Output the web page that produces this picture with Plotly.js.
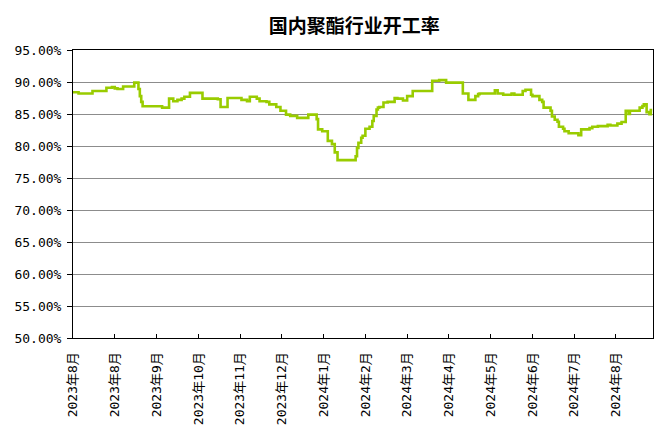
<!DOCTYPE html>
<html>
<head>
<meta charset="utf-8">
<script src="https://cdn.plot.ly/plotly-3.0.1.min.js"></script>
<style>html,body{margin:0;padding:0;background:#fff;}#chart{width:671px;height:441px;}</style>
</head>
<body>
<div id="chart"></div>
<script>
// Step changes of the operating rate (date, %)
const dates = [
  "2023-08-01","2023-08-05","2023-08-15","2023-08-25","2023-08-29","2023-08-31","2023-09-02","2023-09-06",
  "2023-09-14","2023-09-17","2023-09-18","2023-09-19","2023-09-20","2023-10-04","2023-10-09","2023-10-12",
  "2023-10-15","2023-10-18","2023-10-20","2023-10-24","2023-11-02","2023-11-13","2023-11-15","2023-11-20",
  "2023-11-30","2023-12-04","2023-12-06","2023-12-11","2023-12-13","2023-12-18","2023-12-20","2023-12-25",
  "2023-12-28","2024-01-01","2024-01-04","2024-01-09","2024-01-17","2024-01-23","2024-01-24","2024-01-27",
  "2024-01-31","2024-02-03","2024-02-05","2024-02-07","2024-02-20","2024-02-21","2024-02-22","2024-02-24",
  "2024-02-25","2024-02-27","2024-03-01","2024-03-03","2024-03-04","2024-03-06","2024-03-07","2024-03-08",
  "2024-03-11","2024-03-14","2024-03-19","2024-03-21","2024-03-25","2024-03-28","2024-04-01","2024-04-15",
  "2024-04-20","2024-04-25","2024-05-07","2024-05-11","2024-05-16","2024-05-18","2024-05-19","2024-05-30",
  "2024-06-01","2024-06-05","2024-06-11","2024-06-13","2024-06-19","2024-06-21","2024-06-25","2024-06-26",
  "2024-07-01","2024-07-03","2024-07-04","2024-07-09","2024-07-10","2024-07-12","2024-07-14","2024-07-15",
  "2024-07-18","2024-07-19","2024-07-22","2024-07-29","2024-07-31","2024-08-06","2024-08-08","2024-08-12",
  "2024-08-19","2024-08-21","2024-08-26","2024-08-29","2024-09-01","2024-09-03","2024-09-04","2024-09-11",
  "2024-09-13","2024-09-14","2024-09-16","2024-09-18","2024-09-19","2024-09-20"
];
const rates = [
  88.4,88.2,88.6,89.1,89.2,89.0,88.9,89.3,
  89.9,88.9,87.8,86.9,86.2,86.0,87.4,87.0,
  87.2,87.4,87.7,88.3,87.4,87.3,86.1,87.5,
  87.2,87.0,87.7,87.4,87.0,86.9,86.5,86.1,
  85.5,84.9,84.7,84.4,84.9,84.2,82.6,82.3,
  80.8,80.3,79.0,77.8,78.4,79.7,80.5,81.3,
  81.6,82.7,83.0,83.9,84.7,85.7,86.0,86.1,
  86.8,86.9,87.5,87.4,87.1,87.8,88.6,90.2,
  90.3,89.9,88.2,87.2,87.8,88.1,88.2,88.7,
  88.2,88.0,88.2,88.0,88.6,88.8,88.0,87.8,
  87.2,86.9,86.0,85.5,84.6,84.1,83.8,83.0,
  82.7,82.3,82.0,81.7,82.6,82.8,83.0,83.1,
  83.3,83.2,83.5,83.75,85.5,85.0,85.5,86.0,
  86.25,86.5,85.3,84.95,85.6,85.6
];
const tickDates = [
  "2023-08-01","2023-08-31","2023-09-30","2023-10-30","2023-11-29","2023-12-29","2024-01-28",
  "2024-02-27","2024-03-28","2024-04-27","2024-05-27","2024-06-26","2024-07-26","2024-08-25"
];
const tickLabels = [
  "2023年8月","2023年8月","2023年9月","2023年10月","2023年11月","2023年12月","2024年1月",
  "2024年2月","2024年3月","2024年4月","2024年5月","2024年6月","2024年7月","2024年8月"
];
const xRange = ["2023-08-01 00:00","2024-09-20 14:00"];
const yTicks = [50,55,60,65,70,75,80,85,90,95];
const yTickLabels = ["50.00%","55.00%","60.00%","65.00%","70.00%","75.00%","80.00%","85.00%","90.00%","95.00%"];

const font = '"DejaVu Sans Mono", "Noto Sans CJK SC", monospace';

Plotly.newPlot('chart', [{
  x: dates, y: rates, type: 'scatter', mode: 'lines',
  line: {shape: 'hv', color: '#99cc00', width: 2.6},
  hoverinfo: 'skip'
}], {
  width: 671, height: 441,
  margin: {l: 73, r: 18, t: 50, b: 103, pad: 0},
  paper_bgcolor: '#ffffff', plot_bgcolor: '#ffffff',
  showlegend: false,
  title: {text: '国内聚酯行业开工率', font: {family: '"Noto Sans CJK SC", sans-serif', size: 19, color: '#000', weight: 'bold'},
          x: 0.528, xref: 'container', xanchor: 'center', y: 0.94, yref: 'container', yanchor: 'middle'},
  xaxis: {
    type: 'date', range: xRange, tickmode: 'array', tickvals: tickDates, ticktext: tickLabels,
    tickangle: -90, ticks: 'inside', ticklen: 4, tickcolor: '#000',
    showgrid: false, zeroline: false, showline: true, linecolor: '#000', linewidth: 1, mirror: true,
    tickfont: {family: font, size: 13, color: '#000'}, ticklabelstandoff: 8
  },
  yaxis: {
    range: [50, 95], tickmode: 'array', tickvals: yTicks, ticktext: yTickLabels,
    ticks: 'outside', ticklen: 5, tickcolor: '#000',
    showgrid: true, gridcolor: '#8c8c8c', gridwidth: 1, zeroline: false,
    showline: true, linecolor: '#000', linewidth: 1, mirror: true,
    tickfont: {family: font, size: 13, color: '#000'}, ticklabelstandoff: 3
  }
}, {displayModeBar: false, staticPlot: true});
</script>
</body>
</html>
